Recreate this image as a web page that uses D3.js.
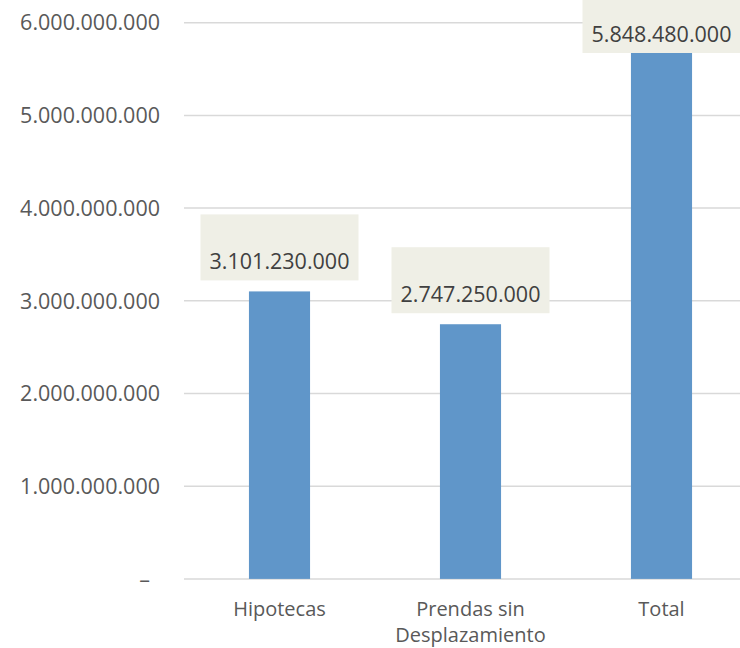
<!DOCTYPE html>
<html>
<head>
<meta charset="utf-8">
<script src="https://cdn.jsdelivr.net/npm/d3@7"></script>
<style>
  body { margin: 0; background: #fff; }
  svg { display: block; font-family: "Open Sans", "Noto Sans", sans-serif; }
</style>
</head>
<body>
<svg width="740" height="648"></svg>
<script>
// chart data
const categories = ['Hipotecas', 'Prendas sin Desplazamiento', 'Total'];
const categoryLines = [['Hipotecas'], ['Prendas sin', 'Desplazamiento'], ['Total']];
const values = [3101230000, 2747250000, 5848480000];
const yTicks = [0, 1e9, 2e9, 3e9, 4e9, 5e9, 6e9];

const svg = d3.select('svg');

// thousands with dots, zero as a dash
const fmt = v => v === 0 ? '–' : d3.format(',')(v).replace(/,/g, '.');

const x = d3.scaleBand()
  .domain(categories)
  .range([184, 757])
  .paddingInner(0.68)
  .paddingOuter(0.34);

const y = d3.scaleLinear()
  .domain([0, 6e9])
  .range([578.9, 22.7]);

// gridlines
svg.append('g')
  .selectAll('line')
  .data(yTicks)
  .join('line')
    .attr('x1', 184)
    .attr('x2', 757)
    .attr('y1', d => y(d))
    .attr('y2', d => y(d))
    .attr('stroke', '#d9d9d9')
    .attr('stroke-width', 1.5);

// y tick labels
svg.append('g')
  .selectAll('text')
  .data(yTicks)
  .join('text')
    .attr('x', d => d === 0 ? 150 : 160)
    .attr('y', d => y(d))
    .attr('dy', '0.36em')
    .attr('text-anchor', 'end')
    .attr('fill', '#595959')
    .attr('font-size', 21.5)
    .text(fmt);

// bars
svg.append('g')
  .selectAll('rect')
  .data(values)
  .join('rect')
    .attr('x', (d, i) => x(categories[i]))
    .attr('width', x.bandwidth())
    .attr('y', d => y(d))
    .attr('height', d => y(0) - y(d))
    .attr('fill', '#6096c9');

// data label boxes, pushed down when they would leave the top
const boxW = 158;
const boxH = 66;
const labelG = svg.append('g')
  .selectAll('g')
  .data(values)
  .join('g')
    .attr('transform', (d, i) => {
      const cx = x(categories[i]) + x.bandwidth() / 2;
      const top = Math.max(y(d) - 11 - boxH, -13);
      return `translate(${cx},${top})`;
    });

labelG.append('rect')
  .attr('x', -boxW / 2)
  .attr('width', boxW)
  .attr('height', boxH)
  .attr('fill', '#efefe6');

labelG.append('text')
  .attr('y', boxH - 11)
  .attr('text-anchor', 'middle')
  .attr('fill', '#404040')
  .attr('font-size', 21.5)
  .text(fmt);

// category labels
const catG = svg.append('g')
  .selectAll('text')
  .data(categoryLines)
  .join('text')
    .attr('text-anchor', 'middle')
    .attr('fill', '#595959')
    .attr('font-size', 20)
    .attr('transform', (d, i) => `translate(${x(categories[i]) + x.bandwidth() / 2},616)`);

catG.selectAll('tspan')
  .data(d => d)
  .join('tspan')
    .attr('x', 0)
    .attr('y', (d, i) => i * 26)
    .text(d => d);
</script>
</body>
</html>
